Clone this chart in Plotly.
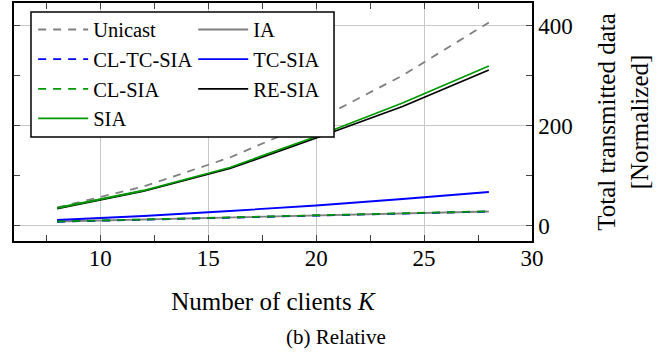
import plotly.graph_objects as go

K = [8, 12, 16, 20, 24, 28]
unicast = [36, 78, 136, 210, 300, 406]
ia = [8, 12, 16, 20, 24, 28]
cl_tc_sia = [7.5, 11.5, 15.5, 20, 24, 28]
tc_sia = [11, 19, 29, 40, 53, 67]
cl_sia = [8, 12, 16, 20.5, 24.5, 28.5]
re_sia = [34, 69, 114, 175, 238, 311]
sia = [35, 70, 116, 178, 245, 319]

x_ticks = [10, 15, 20, 25, 30]
y_ticks = [0, 200, 400]

GRAY = "#808080"
BLUE = "#0000ff"
GREEN = "#009900"
BLACK = "#000000"
DASH = "8px,7px"
LW = 1.8

series = [
    ("Unicast", unicast, GRAY, DASH, "legend"),
    ("IA", ia, GRAY, "solid", "legend2"),
    ("CL-TC-SIA", cl_tc_sia, BLUE, DASH, "legend"),
    ("TC-SIA", tc_sia, BLUE, "solid", "legend2"),
    ("CL-SIA", cl_sia, GREEN, DASH, "legend"),
    ("RE-SIA", re_sia, BLACK, "solid", "legend2"),
    ("SIA", sia, GREEN, "solid", "legend"),
]

fig = go.Figure()
for name, vals, color, dash, leg in series:
    fig.add_trace(go.Scatter(
        x=K, y=vals, mode="lines", name=name,
        line=dict(color=color, width=LW, dash=dash),
        legend=leg, legendgroup=name,
    ))

FONT = "Liberation Serif"
axis_common = dict(
    showline=True, linecolor="black", linewidth=1.5, mirror="ticks",
    ticks="inside", ticklen=6, tickwidth=1, tickcolor="#444",
    showgrid=True, gridcolor="#c8c8c8", gridwidth=1,
    zeroline=False, automargin=False,
    tickfont=dict(family=FONT, size=23, color="black"),
)

legend_common = dict(
    xanchor="left", yanchor="top",
    bgcolor="rgba(0,0,0,0)", borderwidth=0,
    font=dict(family=FONT, size=20.5, color="black"),
    tracegroupgap=0, orientation="v", itemwidth=50,
)

fig.update_layout(
    width=668, height=354, autosize=False,
    margin=dict(l=14, r=136, t=3, b=113),
    paper_bgcolor="white", plot_bgcolor="white",
    font=dict(family=FONT, color="black"),
    showlegend=True,
    xaxis=dict(
        range=[6, 30], tickvals=x_ticks, ticktext=[str(v) for v in x_ticks],
        minor=dict(dtick=2.5, tick0=0, ticks="inside", ticklen=6, tickcolor="#444", showgrid=False),
        ticklabelstandoff=-4,
        title=dict(text="Number of clients <i>K</i>", font=dict(family=FONT, size=25, color="black"), standoff=22),
        **axis_common,
    ),
    yaxis=dict(
        range=[-31, 445], side="right", tickvals=y_ticks, ticktext=[str(v) for v in y_ticks],
        minor=dict(dtick=100, tick0=0, ticks="inside", ticklen=6, tickcolor="#444", showgrid=False),
        title=dict(text="Total transmitted data<br>[Normalized]", font=dict(family=FONT, size=25, color="black"), standoff=26),
        **axis_common,
    ),
    legend=dict(x=0.037, y=0.972, **legend_common),
    legend2=dict(x=0.346, y=0.972, **legend_common),
    shapes=[dict(
        type="rect", xref="paper", yref="paper",
        x0=0.0328, x1=0.6178, y0=0.437, y1=0.962,
        line=dict(color="black", width=1.5), fillcolor="white", layer="above",
    )],
    annotations=[dict(
        text="(b) Relative", xref="paper", yref="paper",
        x=(336 - 14) / 518, y=(241 - 337) / 238, xanchor="center", yanchor="middle",
        showarrow=False, font=dict(family=FONT, size=21, color="black"),
    )],
)

fig.write_html("out.html", config={"displayModeBar": False},
               post_script="document.body.style.margin='0';")
